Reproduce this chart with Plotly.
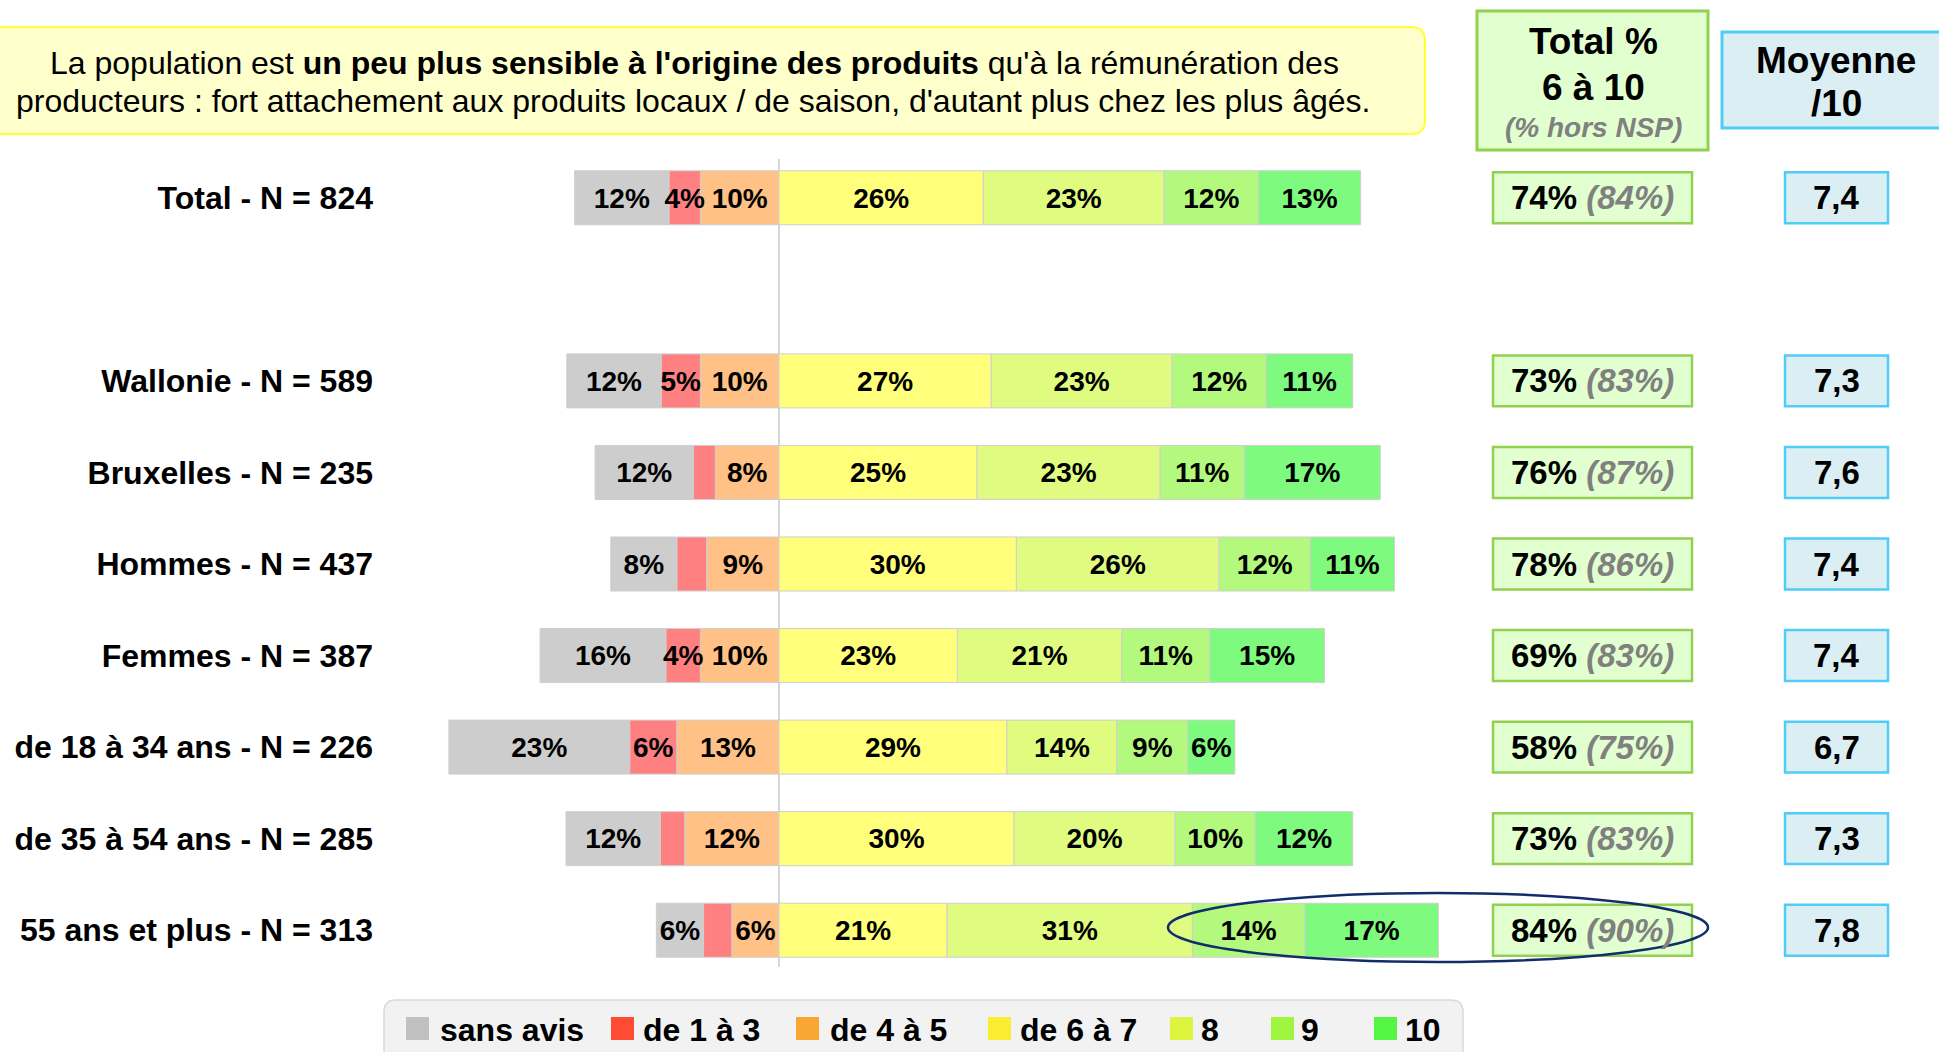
import plotly.graph_objects as go

# ---------------- DATA ----------------
categories = ["Total - N = 824", "Wallonie - N = 589", "Bruxelles - N = 235", "Hommes - N = 437",
              "Femmes - N = 387", "de 18 à 34 ans - N = 226", "de 35 à 54 ans - N = 285",
              "55 ans et plus - N = 313"]
sans_avis = [12, 12, 12.5, 8.4, 16, 23, 12, 6]
de_1_a_3 = [4, 5, 2.8, 3.8, 4.4, 6, 3.1, 3.6]
de_4_a_5 = [10, 10, 8.1, 9.2, 10, 13, 12, 6]
de_6_a_7 = [26, 27, 25.2, 30.2, 22.7, 29, 29.9, 21.4]
note_8 = [23, 23, 23.3, 25.8, 20.9, 14, 20.5, 31.2]
note_9 = [12, 12, 10.7, 11.6, 11.2, 9, 10.2, 14.3]
note_10 = [13, 11, 17.3, 10.7, 14.6, 6, 12.4, 17.0]
total_6_10 = [74, 73, 76, 78, 69, 58, 73, 84]
total_hors_nsp = [84, 83, 87, 86, 83, 75, 83, 90]
moyenne = [7.4, 7.3, 7.6, 7.4, 7.4, 6.7, 7.3, 7.8]
legend_labels = ["sans avis", "de 1 à 3", "de 4 à 5", "de 6 à 7", "8", "9", "10"]

# ---------------- STYLE / GEOMETRY ----------------
FONT = "Liberation Sans, Arial, sans-serif"
W_FIG, H_FIG = 1939, 1052
L, T, B = 374, 152, 76
K = 7.86            # pixels per percent
X0PX = 779          # pixel position of the 0 line
PLOT_W = W_FIG - L
PLOT_H = H_FIG - T - B
BAR_FONT = 28
TEXT_NUDGE = 0.03   # small downward nudge of bar labels (axis units)

bar_colors = {"sans avis": "#CDCDCD", "de 1 à 3": "#FF8080", "de 4 à 5": "#FFC186",
              "de 6 à 7": "#FFFF7C", "8": "#DFFB80", "9": "#B2F97E", "10": "#7EFA7E"}
legend_colors = {"sans avis": "#C0C0C0", "de 1 à 3": "#FF4B33", "de 4 à 5": "#F9A633",
                 "de 6 à 7": "#F9EC31", "8": "#DEF53F", "9": "#A0F541", "10": "#55F543"}


def px(xp):
    return (xp - L) / PLOT_W


def py(yp):
    return (H_FIG - B - yp) / PLOT_H


def rounded_path(x0, y0, x1, y1, r):
    rx = r / PLOT_W
    ry = r / PLOT_H
    a, b, c, d = px(x0), py(y0), px(x1), py(y1)  # b top (larger), d bottom
    return (f"M {a + rx},{b} L {c - rx},{b} Q {c},{b} {c},{b - ry} "
            f"L {c},{d + ry} Q {c},{d} {c - rx},{d} L {a + rx},{d} Q {a},{d} {a},{d + ry} "
            f"L {a},{b - ry} Q {a},{b} {a + rx},{b} Z")


y_pos = [0] + list(range(2, len(categories) + 1))

fig = go.Figure()

series = [("de 4 à 5", de_4_a_5, -1), ("de 1 à 3", de_1_a_3, -1), ("sans avis", sans_avis, -1),
          ("de 6 à 7", de_6_a_7, 1), ("8", note_8, 1), ("9", note_9, 1), ("10", note_10, 1)]

neg_base = [0.0] * len(categories)
pos_base = [0.0] * len(categories)
lab_x, lab_y, lab_t = [], [], []
for name, vals, sign in series:
    fig.add_trace(go.Bar(
        y=y_pos, x=[sign * v for v in vals], orientation="h", name=name,
        width=0.59,
        marker=dict(color=bar_colors[name], line=dict(color="#CFCFCF", width=1)),
        showlegend=False, hoverinfo="skip",
    ))
    base = neg_base if sign < 0 else pos_base
    for i, v in enumerate(vals):
        centre = base[i] + sign * v / 2
        base[i] += sign * v
        if v >= 4:
            lab_x.append(centre)
            lab_y.append(y_pos[i] + TEXT_NUDGE)
            lab_t.append(f"{round(v)}%")

fig.add_trace(go.Scatter(
    x=lab_x, y=lab_y, text=lab_t, mode="text", textposition="middle center",
    textfont=dict(family=FONT, size=BAR_FONT, color="black", weight="bold"),
    showlegend=False, hoverinfo="skip", cliponaxis=False,
))

shapes = []
annotations = []

# centre line
shapes.append(dict(type="line", xref="x", yref="y", x0=0, x1=0, y0=-0.426, y1=8.398,
                   line=dict(color="#C8C8C8", width=1.5), layer="below"))

# title box
shapes.append(dict(type="path", xref="paper", yref="paper", path=rounded_path(-10, 27, 1425, 134, 14),
                   fillcolor="#FFFFCC", line=dict(color="#FFFF33", width=2), layer="below"))
annotations.append(dict(xref="paper", yref="paper", x=px(694), y=py(63), showarrow=False,
                        text="La population est <b>un peu plus sensible à l'origine des produits</b> qu'à la rémunération des",
                        font=dict(family=FONT, size=32, color="black"), xanchor="center", yanchor="middle"))
annotations.append(dict(xref="paper", yref="paper", x=px(693), y=py(101), showarrow=False,
                        text="producteurs : fort attachement aux produits locaux / de saison, d'autant plus chez les plus âgés.",
                        font=dict(family=FONT, size=32, color="black"), xanchor="center", yanchor="middle"))

# header boxes
shapes.append(dict(type="rect", xref="paper", yref="paper", x0=px(1477), x1=px(1708), y0=py(150), y1=py(11),
                   fillcolor="#E2FFD0", line=dict(color="#92D050", width=3), layer="below"))
shapes.append(dict(type="rect", xref="paper", yref="paper", x0=px(1722), x1=px(1950), y0=py(128), y1=py(32),
                   fillcolor="#DAEEF3", line=dict(color="#4FCDF7", width=3), layer="below"))
for txt, yy, size, col, it in [("Total %", 42, 37, "black", False), ("6 à 10", 87, 37, "black", False),
                               ("(% hors NSP)", 127, 28, "#808080", True)]:
    t = f"<b><i>{txt}</i></b>" if it else f"<b>{txt}</b>"
    annotations.append(dict(xref="paper", yref="paper", x=px(1593), y=py(yy), showarrow=False, text=t,
                            font=dict(family=FONT, size=size, color=col), xanchor="center", yanchor="middle"))
for txt, yy in [("Moyenne", 60), ("/10", 103)]:
    annotations.append(dict(xref="paper", yref="paper", x=px(1836), y=py(yy), showarrow=False,
                            text=f"<b>{txt}</b>", font=dict(family=FONT, size=37, color="black"),
                            xanchor="center", yanchor="middle"))

# value boxes
for yp, tot, hn, moy in zip(y_pos, total_6_10, total_hors_nsp, moyenne):
    shapes.append(dict(type="rect", xref="paper", yref="y", x0=px(1493), x1=px(1692), y0=yp - 0.278, y1=yp + 0.278,
                       fillcolor="#E2FFD0", line=dict(color="#92D050", width=2.5), layer="below"))
    shapes.append(dict(type="rect", xref="paper", yref="y", x0=px(1785), x1=px(1888), y0=yp - 0.278, y1=yp + 0.278,
                       fillcolor="#DAEEF3", line=dict(color="#4FCDF7", width=2.5), layer="below"))
    annotations.append(dict(xref="paper", yref="y", x=px(1592.5), y=yp, showarrow=False,
                            text=f"<b>{tot}%</b> <span style='color:#808080'><b><i>({hn}%)</i></b></span>",
                            font=dict(family=FONT, size=33, color="black"), xanchor="center", yanchor="middle"))
    annotations.append(dict(xref="paper", yref="y", x=px(1836.5), y=yp, showarrow=False,
                            text=f"<b>{moy:.1f}</b>".replace(".", ","),
                            font=dict(family=FONT, size=33, color="black"), xanchor="center", yanchor="middle"))

# highlight ellipse
shapes.append(dict(type="circle", xref="paper", yref="paper", x0=px(1168), x1=px(1708), y0=py(962), y1=py(893),
                   line=dict(color="#112E6B", width=2.5), layer="above"))

# legend
shapes.append(dict(type="path", xref="paper", yref="paper", path=rounded_path(384, 1000, 1463, 1075, 12),
                   fillcolor="#F2F2F2", line=dict(color="#D9D9D9", width=1.5), layer="below"))
sq_x = [406, 611, 796, 988, 1170, 1271, 1374]
tx_x = [441, 644, 831, 1021, 1202, 1302, 1406]
for lab, sx, tx in zip(legend_labels, sq_x, tx_x):
    shapes.append(dict(type="rect", xref="paper", yref="paper", x0=px(sx), x1=px(sx + 23), y0=py(1040), y1=py(1017),
                       fillcolor=legend_colors[lab], line=dict(width=0)))
    annotations.append(dict(xref="paper", yref="paper", x=px(tx - 3), y=py(1030), showarrow=False,
                            text=f"<b>{lab}</b>", font=dict(family=FONT, size=32, color="black"),
                            xanchor="left", yanchor="middle"))

fig.update_layout(
    width=W_FIG, height=H_FIG,
    margin=dict(l=L, r=0, t=T, b=B, pad=0),
    paper_bgcolor="white", plot_bgcolor="white",
    barmode="relative",
    xaxis=dict(range=[-(X0PX - L) / K, (W_FIG - X0PX) / K], visible=False, fixedrange=True),
    yaxis=dict(range=[8.5, -0.5], tickvals=y_pos, ticktext=categories, showgrid=False, zeroline=False,
               showline=False, ticks="", tickfont=dict(family=FONT, size=32, color="black", weight="bold"),
               fixedrange=True),
    shapes=shapes, annotations=annotations,
    font=dict(family=FONT),
)

fig.write_html("out.html", config={"displayModeBar": False},
               post_script="document.body.style.margin='0';document.body.style.overflow='hidden';")
